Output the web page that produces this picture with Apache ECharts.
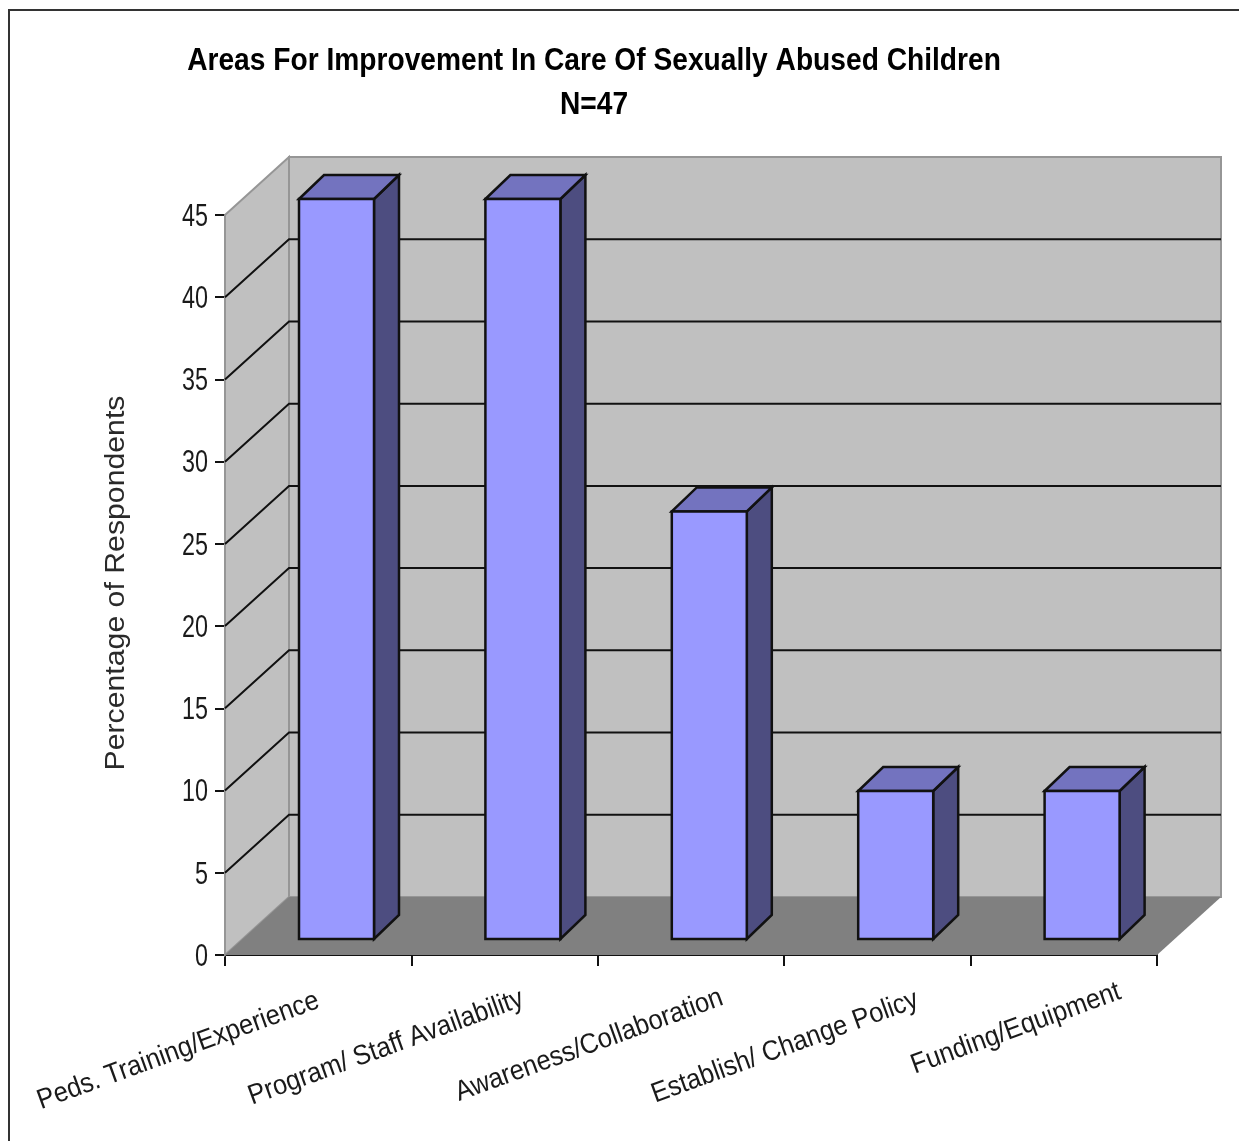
<!DOCTYPE html>
<html><head><meta charset="utf-8">
<style>html,body{margin:0;padding:0;background:#fff}#c{width:1239px;height:1141px;filter:blur(0.6px)}</style>
<script src="https://cdn.jsdelivr.net/npm/echarts@6/dist/echarts.min.js"></script>
</head><body><div id="c"></div>
<script>
const categories = ['Peds. Training/Experience','Program/ Staff Availability','Awareness/Collaboration','Establish/ Change Policy','Funding/Equipment'];
const values = [45,45,26,9,9];
const yTicks = [0,5,10,15,20,25,30,35,40,45];
const gridValues = [5,10,15,20,25,30,35,40];
const titleText = 'Areas For Improvement In Care Of Sexually Abused Children\nN=47';
const yName = 'Percentage of Respondents';

const WALL_DX = 64, WALL_DY = 58;
const BAR_SHIFT_X = 18.3, BAR_SHIFT_Y = 16, BAR_DX = 25, BAR_DY = 24, BAR_W = 75;
const LABEL_NUDGE = [[0,45],[18,43],[31,42],[40,44],[56,36]];
const FONT = "'Liberation Sans',Arial,sans-serif";
const ROT = 20 * Math.PI / 180;
const INK = '#111';

const chart = echarts.init(document.getElementById('c'), null, {renderer:'canvas'});

function poly(points, fill, stroke, lw){
  return {type:'polygon', shape:{points}, style:{fill, stroke:stroke||null, lineWidth:lw||0, lineJoin:'miter'}};
}
function renderWalls(params, api){
  const c = params.coordSys, x=c.x, y=c.y, w=c.width, h=c.height, b=y+h;
  return {type:'group', children:[
    poly([[x+WALL_DX,y-WALL_DY],[x+w+WALL_DX,y-WALL_DY],[x+w+WALL_DX,b-WALL_DY],[x+WALL_DX,b-WALL_DY]],'#c0c0c0','#969696',2),
    poly([[x,y],[x+WALL_DX,y-WALL_DY],[x+WALL_DX,b-WALL_DY],[x,b]],'#c0c0c0','#969696',2),
    poly([[x,b],[x+WALL_DX,b-WALL_DY],[x+w+WALL_DX,b-WALL_DY],[x+w,b]],'#808080')
  ]};
}
function renderGrid(params, api){
  const c = params.coordSys, x=c.x, w=c.width;
  const py = api.coord([0, api.value(1)])[1];
  return {type:'polyline', shape:{points:[[x,py],[x+WALL_DX,py-WALL_DY],[x+w+WALL_DX,py-WALL_DY]]},
    style:{fill:null, stroke:INK, lineWidth:2}};
}
function renderBar(params, api){
  const top = api.coord([api.value(0), api.value(1)]);
  const bot = api.coord([api.value(0), 0]);
  const l = top[0] + BAR_SHIFT_X - BAR_W/2, r = l + BAR_W;
  const t = top[1] - BAR_SHIFT_Y, m = bot[1] - BAR_SHIFT_Y;
  return {type:'group', children:[
    poly([[r,t],[r+BAR_DX,t-BAR_DY],[r+BAR_DX,m-BAR_DY],[r,m]],'#4d4d80',INK,2.5),
    poly([[l,t],[l+BAR_DX,t-BAR_DY],[r+BAR_DX,t-BAR_DY],[r,t]],'#7373bf',INK,2.5),
    poly([[l,t],[r,t],[r,m],[l,m]],'#9999ff',INK,2.5)
  ]};
}
function renderXLabel(params, api){
  const i = api.value(0);
  const p = api.coord([i, 0]);
  return {type:'text', x:p[0]+LABEL_NUDGE[i][0], y:p[1]+LABEL_NUDGE[i][1], rotation:ROT, scaleX:0.91,
    style:{text:categories[i], align:'right', verticalAlign:'middle', fill:'#1a1a1a', font:"28px "+FONT}};
}
function renderYLabel(params, api){
  const p = api.coord([0, api.value(1)]);
  return {type:'text', x:params.coordSys.x-17, y:p[1]+2, scaleX:0.73,
    style:{text:String(api.value(1)), align:'right', verticalAlign:'middle', fill:'#1a1a1a', font:"32px "+FONT}};
}

chart.setOption({
  animation:false,
  backgroundColor:'#fff',
  grid:{left:225, right:82, top:215, bottom:186, containLabel:false},
  xAxis:{type:'category', data:categories, boundaryGap:true,
    axisLine:{onZero:false, lineStyle:{color:INK,width:2}},
    axisTick:{show:true, length:11, interval:0, lineStyle:{color:INK,width:2}},
    axisLabel:{show:false}, splitLine:{show:false}},
  yAxis:{type:'value', min:0, max:45, interval:5,
    axisLine:{show:true, lineStyle:{color:INK,width:2}},
    axisTick:{show:true, length:10, lineStyle:{color:INK,width:2}},
    axisLabel:{show:false},
    splitLine:{show:false}},
  graphic:[
    {type:'polyline', silent:true, shape:{points:[[1239,10],[9,10],[9,1141]]},
      style:{fill:null, stroke:'#333', lineWidth:2}},
    {type:'text', silent:true, x:594, y:83, scaleX:0.88,
      style:{text:titleText, align:'center', verticalAlign:'middle', fill:'#000', font:"bold 32px "+FONT, lineHeight:44}},
    {type:'text', silent:true, x:117, y:583, rotation:Math.PI/2, scaleX:1.12,
      style:{text:yName, align:'center', verticalAlign:'middle', fill:'#2a2a2a', font:"27px "+FONT}}
  ],
  series:[
    {type:'custom', coordinateSystem:'cartesian2d', z:1, silent:true, renderItem:renderWalls, data:[[0,0]], clip:false},
    {type:'custom', coordinateSystem:'cartesian2d', z:2, silent:true, renderItem:renderGrid, data:gridValues.map(v=>[0,v]), clip:false},
    {type:'custom', coordinateSystem:'cartesian2d', z:3, renderItem:renderBar, data:values.map((v,i)=>[i,v]), clip:false},
    {type:'custom', coordinateSystem:'cartesian2d', z:4, silent:true, renderItem:renderXLabel, data:categories.map((n,i)=>[i,0]), clip:false},
    {type:'custom', coordinateSystem:'cartesian2d', z:4, silent:true, renderItem:renderYLabel, data:yTicks.map(v=>[0,v]), clip:false}
  ]
});
</script></body></html>
